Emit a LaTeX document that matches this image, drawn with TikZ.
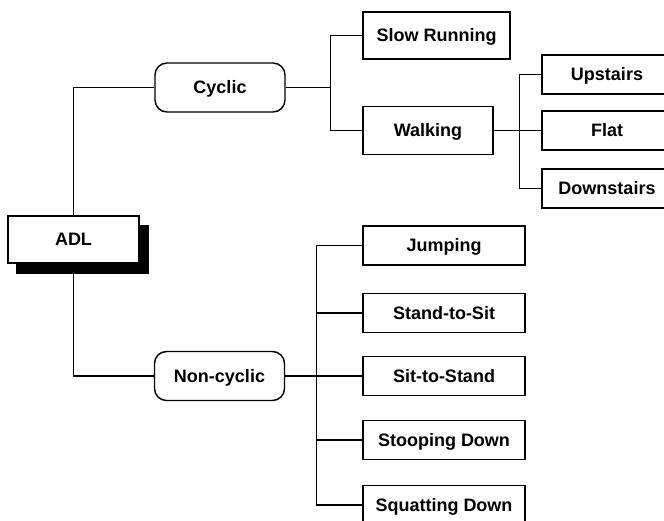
\documentclass[tikz,border=0pt]{standalone}
\usepackage{fontspec}
\setmainfont{Liberation Sans}
\usetikzlibrary{backgrounds}
\begin{document}
\begin{tikzpicture}[x=0.75pt,y=0.75pt,yscale=-1,xscale=1,
  every node/.style={font=\fontsize{13.5}{16}\selectfont\bfseries, inner sep=0.75pt, text height=9.7pt, text depth=0pt},
  box/.style={draw, line width=1.1pt, fill=white, minimum width=97.5pt, minimum height=29.5pt},
  wide/.style={box, minimum width=121.5pt},
  class/.style={box, rounded corners=9pt, minimum height=36.75pt},
  link/.style={line width=1pt}]
\useasboundingbox (0,0) rectangle (664,521);
\clip (0,0) rectangle (664,521);
\node[box, minimum width=98.25pt, minimum height=35.25pt] (adl) at (73.5,239.5) {ADL};
\node[class] (cyclic) at (220,87.5) {Cyclic};
\node[class] (noncyclic) at (219.5,376) {Non-cyclic};
\node[box, minimum width=110.25pt, minimum height=35.25pt] (slow) at (436.5,35.5) {Slow Running};
\node[box, minimum height=36pt] (walking) at (428,130.5) {Walking};
\node[box] (up) at (607,74.5) {Upstairs};
\node[box] (flat) at (607,130.5) {Flat};
\node[box] (down) at (607,188.5) {Downstairs};
\node[wide] (jump) at (444,245.5) {Jumping};
\node[wide] (standsit) at (444,313) {Stand-to-Sit};
\node[wide] (sitstand) at (444,376) {Sit-to-Stand};
\node[wide] (stoop) at (444,440) {Stooping Down};
\node[wide] (squat) at (444,505) {Squatting Down};
\begin{scope}[on background layer]
\fill ([shift={(9,10)}]adl.north west) rectangle ([shift={(9,10)}]adl.south east);
\end{scope}
\draw[link] (adl.north) |- (cyclic.west);
\draw[link] (adl.south) |- (noncyclic.west);
\draw[link] (cyclic.east) -- ++(45,0) coordinate (cfork);
\draw[link] (cfork) |- (slow.west);
\draw[link] (cfork) |- (walking.west);
\draw[link] (walking.east) -- ++(26,0) coordinate (wfork);
\foreach \n in {up,flat,down} \draw[link] (wfork) |- (\n.west);
\draw[link] (noncyclic.east) -- ++(31,0) coordinate (nfork);
\foreach \n in {jump,standsit,sitstand,stoop,squat} \draw[link] (nfork) |- (\n.west);
\end{tikzpicture}
\end{document}
